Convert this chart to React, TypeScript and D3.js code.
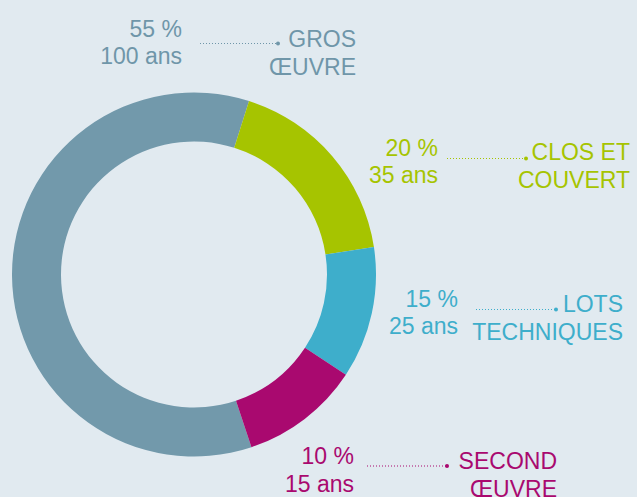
import React from "react";
import * as d3 from "d3";

// Data
const categories = ["GROS ŒUVRE", "CLOS ET COUVERT", "LOTS TECHNIQUES", "SECOND ŒUVRE"];
const categoryLines = [["GROS", "ŒUVRE"], ["CLOS ET", "COUVERT"], ["LOTS", "TECHNIQUES"], ["SECOND", "ŒUVRE"]];
const percents = [55, 20, 15, 10];
const lifespans = [100, 35, 25, 15];
// ring shares as drawn in the picture (gray, green, blue, magenta)
const ringShares = [60, 17.7, 11.7, 10.6];
const colors = ["#7299ab", "#a6c400", "#3eaecb", "#a9096f"];

// Layout
const W = 637, H = 497;
const cx = 194, cy = 274.5, rOuter = 182, rInner = 133;
const startDeg = 161.6;
const labelLayout = [
  { numX: 182, numY: [37, 64], lx1: 200, lx2: 278, ly: 43.5, catX: 356, catY: [47, 75] },
  { numX: 438, numY: [156, 183], lx1: 447, lx2: 526, ly: 158.5, catX: 630, catY: [160, 188] },
  { numX: 458, numY: [307, 334], lx1: 476, lx2: 556, ly: 309.5, catX: 623, catY: [312, 340] },
  { numX: 354, numY: [464, 492], lx1: 367, lx2: 447, ly: 466, catX: 557, catY: [468.5, 497] },
];
const textColors = ["#6f96a9", "#a6c400", "#3eaecb", "#a9096f"];

export default function App() {
  const start = (startDeg * Math.PI) / 180;
  const pie = d3.pie<number>().sort(null).startAngle(start).endAngle(start + 2 * Math.PI);
  const arcs = pie(ringShares);
  const arcGen = d3.arc<d3.PieArcDatum<number>>().innerRadius(rInner).outerRadius(rOuter);
  const font = "'Liberation Sans', Arial, sans-serif";
  return (
    <svg width={W} height={H} style={{ position: "absolute", left: 0, top: 0, background: "#e1eaf0" }}>
      <rect width={W} height={H} fill="#e1eaf0" />
      <g transform={`translate(${cx},${cy})`}>
        {arcs.map((a, i) => (
          <path key={i} d={arcGen(a) || ""} fill={colors[i]} />
        ))}
      </g>
      {categories.map((c, i) => {
        const L = labelLayout[i];
        const col = textColors[i];
        return (
          <g key={c} fontFamily={font} fontSize={23} fill={col}>
            <text x={L.numX} y={L.numY[0]} textAnchor="end">{`${percents[i]} %`}</text>
            <text x={L.numX} y={L.numY[1]} textAnchor="end">{`${lifespans[i]} ans`}</text>
            <line x1={L.lx1} x2={L.lx2} y1={L.ly} y2={L.ly} stroke={col} strokeWidth={1} strokeDasharray="1 2" />
            <circle cx={L.lx2} cy={L.ly} r={2} fill={col} />
            {categoryLines[i].map((t, j) => (
              <text key={j} x={L.catX} y={L.catY[j]} textAnchor="end">{t}</text>
            ))}
          </g>
        );
      })}
    </svg>
  );
}
